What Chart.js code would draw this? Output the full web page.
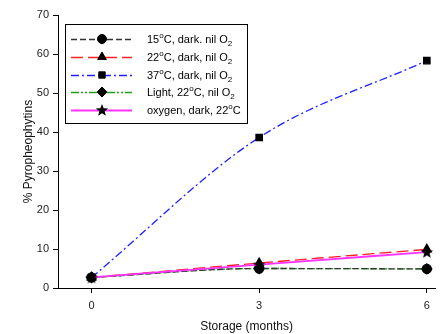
<!DOCTYPE html>
<html><head><meta charset="utf-8">
<script src="https://cdn.jsdelivr.net/npm/chart.js@4.4.0/dist/chart.umd.min.js"></script>
<style>html,body{margin:0;padding:0;background:#fff}#wrap{width:443px;height:334px}</style>
</head><body><div id="wrap"><canvas id="c" width="443" height="334"></canvas></div>
<script>
const months = [0, 3, 6];
const xTicks = [0, 3, 6];
const yTicks = [0, 10, 20, 30, 40, 50, 60, 70];
const s15dark = [2.7, 5.0, 4.9];
const s22dark = [2.7, 6.4, 9.9];
const s37dark = [2.7, 38.6, 58.3];
const sLight22 = [2.7, 5.0, 4.9];
const sOxygen = [2.7, 6.0, 9.2];
const labels = [
  [["15",""],["o","sup"],["C, dark. nil O",""],["2","sub"]],
  [["22",""],["o","sup"],["C, dark, nil O",""],["2","sub"]],
  [["37",""],["o","sup"],["C, dark, nil O",""],["2","sub"]],
  [["Light, 22",""],["o","sup"],["C, nil O",""],["2","sub"]],
  [["oxygen, dark, 22",""],["o","sup"],["C",""]]
];

function starImg(){
  const c=document.createElement('canvas');c.width=14;c.height=14;const g=c.getContext('2d');
  g.fillStyle='#000';g.beginPath();
  for(let i=0;i<10;i++){const r=i%2?2.8:6.5;const a=-Math.PI/2+i*Math.PI/5;
    g.lineTo(7+r*Math.cos(a),7.5+r*Math.sin(a));}
  g.closePath();g.fill();return c;
}
const star=starImg();

function pts(arr){return months.map((m,i)=>({x:m,y:arr[i]}));}
const common={borderWidth:1.3,pointBackgroundColor:'#000',pointBorderColor:'#000',pointRadius:4.5,cubicInterpolationMode:'monotone',fill:false};
const datasets=[
  Object.assign({},common,{label:'15',data:pts(s15dark),borderColor:'#333',borderDash:[6,3],pointStyle:'circle',order:3}),
  Object.assign({},common,{label:'22',data:pts(s22dark),borderColor:'#ff2020',borderDash:[12,5],pointStyle:'triangle',pointRadius:5,order:2}),
  Object.assign({},common,{label:'37',data:pts(s37dark),borderColor:'#2020ff',borderDash:[8,3,2,3],pointStyle:'rect',pointRadius:4.5,order:4}),
  Object.assign({},common,{label:'L',data:pts(sLight22),borderColor:'#20a020',borderDash:[8,2,2,2,2,2],pointStyle:'rectRot',pointRadius:5,order:5}),
  Object.assign({},common,{label:'O',data:pts(sOxygen),borderColor:'#ff33ff',borderWidth:1.8,pointStyle:star,pointRadius:6,order:1})
];

const legendPlugin={id:'customLegend',afterDraw(chart){
  const ctx=chart.ctx;ctx.save();
  const bx=65,by=24,bw=182,bh=99;
  ctx.fillStyle='#fff';ctx.fillRect(bx,by,bw,bh);
  ctx.strokeStyle='#000';ctx.lineWidth=1;ctx.strokeRect(bx+0.5,by+0.5,bw,bh);
  const rows=[39,57,75,92,110];
  datasets.forEach((d,i)=>{
    const y=rows[i];
    ctx.strokeStyle=d.borderColor;ctx.lineWidth=d.borderWidth;ctx.setLineDash(d.borderDash||[]);
    ctx.beginPath();ctx.moveTo(71,y+0.5);ctx.lineTo(132,y+0.5);ctx.stroke();ctx.setLineDash([]);
    ctx.fillStyle='#000';ctx.strokeStyle='#000';ctx.lineWidth=1;
    Chart.helpers.drawPoint(ctx,{pointStyle:d.pointStyle,radius:d.pointRadius,rotation:0,borderWidth:1},102,y);
    ctx.fillStyle='#000';
    let x=147;
    labels[i].forEach(([t,k])=>{
      ctx.textBaseline='alphabetic';
      if(k==='sup'){ctx.font='8px "Liberation Sans", Arial';ctx.fillText(t,x,y-1);}
      else if(k==='sub'){ctx.font='8px "Liberation Sans", Arial';ctx.fillText(t,x,y+7);}
      else {ctx.font='11px "Liberation Sans", Arial';ctx.fillText(t,x,y+4);}
      x+=ctx.measureText(t).width;
    });
  });
  ctx.restore();
}};

new Chart(document.getElementById('c'),{
  type:'line',
  data:{datasets},
  options:{
    responsive:false,animation:false,
    layout:{padding:{top:15,right:0,left:21,bottom:0}},
    plugins:{legend:{display:false},tooltip:{enabled:false}},
    scales:{
      x:{type:'linear',min:-0.6,max:6.15,
        afterBuildTicks(s){s.ticks=xTicks.map(v=>({value:v}));},
        afterFit(s){s.height=46;},
        grid:{drawOnChartArea:false,tickLength:5,color:'#000'},
        border:{color:'#000',width:1},
        ticks:{color:'#222',font:{family:'"Liberation Sans", Arial',size:11},padding:6,maxRotation:0},
        title:{display:true,text:'Storage (months)',color:'#111',font:{family:'"Liberation Sans", Arial',size:12},padding:0}
      },
      y:{min:0,max:70,
        afterBuildTicks(s){s.ticks=yTicks.map(v=>({value:v}));},
        afterFit(s){s.width=37;},
        grid:{drawOnChartArea:false,tickLength:5,color:'#000'},
        border:{color:'#000',width:1},
        ticks:{color:'#222',font:{family:'"Liberation Sans", Arial',size:11},padding:4},
        title:{display:true,text:'% Pyropheophytins',color:'#111',font:{family:'"Liberation Sans", Arial',size:12},padding:0}
      }
    }
  },
  plugins:[legendPlugin]
});
</script></body></html>
